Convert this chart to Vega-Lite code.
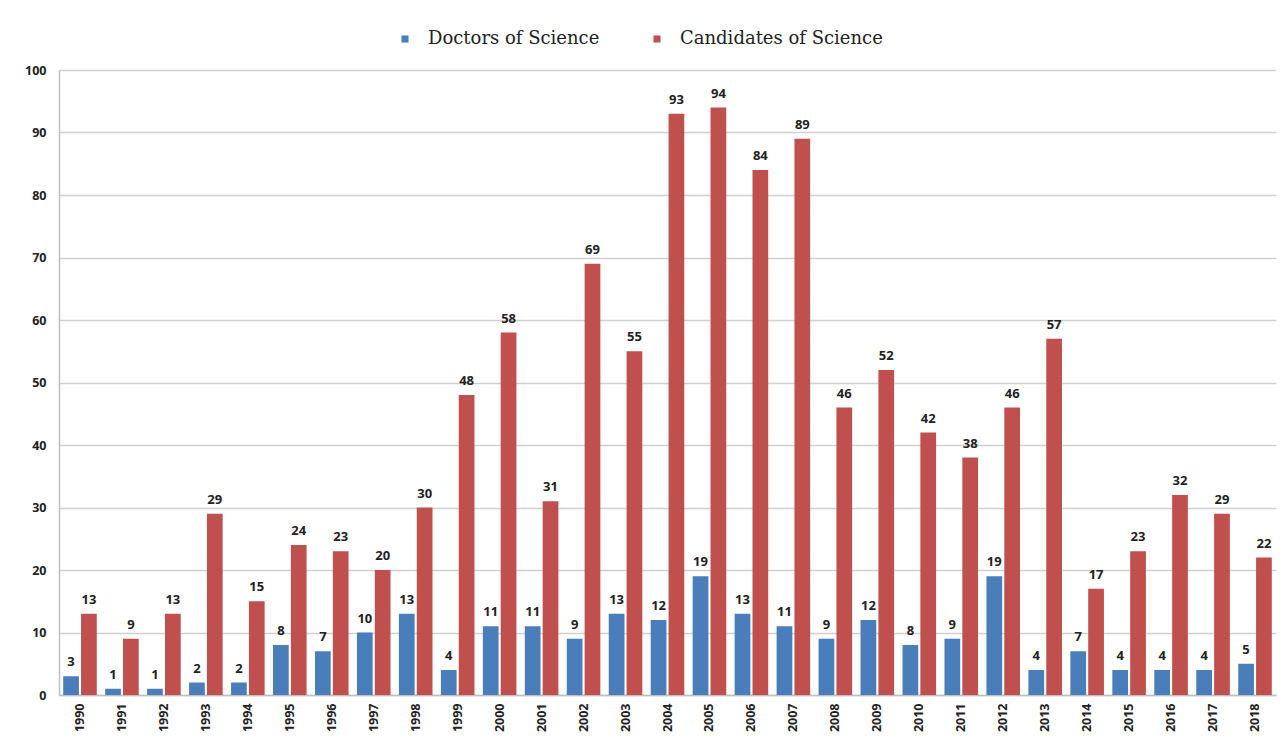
{
  "$schema": "https://vega.github.io/schema/vega-lite/v6.json",
  "width": 1217,
  "height": 625,
  "autosize": {"type": "none"},
  "padding": {"left": 59, "top": 70, "right": 7, "bottom": 52},
  "background": "white",
  "config": {"view": {"stroke": null}},
  "data": {"values": [
    {"year": "1990", "series": "Doctors of Science", "value": 3},
    {"year": "1991", "series": "Doctors of Science", "value": 1},
    {"year": "1992", "series": "Doctors of Science", "value": 1},
    {"year": "1993", "series": "Doctors of Science", "value": 2},
    {"year": "1994", "series": "Doctors of Science", "value": 2},
    {"year": "1995", "series": "Doctors of Science", "value": 8},
    {"year": "1996", "series": "Doctors of Science", "value": 7},
    {"year": "1997", "series": "Doctors of Science", "value": 10},
    {"year": "1998", "series": "Doctors of Science", "value": 13},
    {"year": "1999", "series": "Doctors of Science", "value": 4},
    {"year": "2000", "series": "Doctors of Science", "value": 11},
    {"year": "2001", "series": "Doctors of Science", "value": 11},
    {"year": "2002", "series": "Doctors of Science", "value": 9},
    {"year": "2003", "series": "Doctors of Science", "value": 13},
    {"year": "2004", "series": "Doctors of Science", "value": 12},
    {"year": "2005", "series": "Doctors of Science", "value": 19},
    {"year": "2006", "series": "Doctors of Science", "value": 13},
    {"year": "2007", "series": "Doctors of Science", "value": 11},
    {"year": "2008", "series": "Doctors of Science", "value": 9},
    {"year": "2009", "series": "Doctors of Science", "value": 12},
    {"year": "2010", "series": "Doctors of Science", "value": 8},
    {"year": "2011", "series": "Doctors of Science", "value": 9},
    {"year": "2012", "series": "Doctors of Science", "value": 19},
    {"year": "2013", "series": "Doctors of Science", "value": 4},
    {"year": "2014", "series": "Doctors of Science", "value": 7},
    {"year": "2015", "series": "Doctors of Science", "value": 4},
    {"year": "2016", "series": "Doctors of Science", "value": 4},
    {"year": "2017", "series": "Doctors of Science", "value": 4},
    {"year": "2018", "series": "Doctors of Science", "value": 5},
    {"year": "1990", "series": "Candidates of Science", "value": 13},
    {"year": "1991", "series": "Candidates of Science", "value": 9},
    {"year": "1992", "series": "Candidates of Science", "value": 13},
    {"year": "1993", "series": "Candidates of Science", "value": 29},
    {"year": "1994", "series": "Candidates of Science", "value": 15},
    {"year": "1995", "series": "Candidates of Science", "value": 24},
    {"year": "1996", "series": "Candidates of Science", "value": 23},
    {"year": "1997", "series": "Candidates of Science", "value": 20},
    {"year": "1998", "series": "Candidates of Science", "value": 30},
    {"year": "1999", "series": "Candidates of Science", "value": 48},
    {"year": "2000", "series": "Candidates of Science", "value": 58},
    {"year": "2001", "series": "Candidates of Science", "value": 31},
    {"year": "2002", "series": "Candidates of Science", "value": 69},
    {"year": "2003", "series": "Candidates of Science", "value": 55},
    {"year": "2004", "series": "Candidates of Science", "value": 93},
    {"year": "2005", "series": "Candidates of Science", "value": 94},
    {"year": "2006", "series": "Candidates of Science", "value": 84},
    {"year": "2007", "series": "Candidates of Science", "value": 89},
    {"year": "2008", "series": "Candidates of Science", "value": 46},
    {"year": "2009", "series": "Candidates of Science", "value": 52},
    {"year": "2010", "series": "Candidates of Science", "value": 42},
    {"year": "2011", "series": "Candidates of Science", "value": 38},
    {"year": "2012", "series": "Candidates of Science", "value": 46},
    {"year": "2013", "series": "Candidates of Science", "value": 57},
    {"year": "2014", "series": "Candidates of Science", "value": 17},
    {"year": "2015", "series": "Candidates of Science", "value": 23},
    {"year": "2016", "series": "Candidates of Science", "value": 32},
    {"year": "2017", "series": "Candidates of Science", "value": 29},
    {"year": "2018", "series": "Candidates of Science", "value": 22}
  ]},
  "encoding": {
    "x": {
      "field": "year", "type": "nominal", "title": null,
      "scale": {"paddingInner": 0.2, "paddingOuter": 0.1},
      "axis": {
        "labelAngle": -90, "labelAlign": "right", "labelBaseline": "middle",
        "labelFont": "Open Sans", "labelFontWeight": "bold", "labelFontSize": 12.5,
        "labelColor": "#222", "labelPadding": 8,
        "ticks": false, "domainColor": "#bfbfbf", "domainWidth": 1.5, "grid": false
      }
    },
    "xOffset": {"field": "series", "type": "nominal", "sort": ["Doctors of Science", "Candidates of Science"], "scale": {"paddingInner": 0.12}},
    "y": {
      "field": "value", "type": "quantitative", "title": null,
      "scale": {"domain": [0, 100], "nice": false},
      "axis": {
        "values": [0, 10, 20, 30, 40, 50, 60, 70, 80, 90, 100],
        "labelFont": "Open Sans", "labelFontWeight": "bold", "labelFontSize": 12.5,
        "labelColor": "#222", "labelPadding": 13,
        "ticks": false, "domainColor": "#bfbfbf", "domainWidth": 1.5,
        "gridColor": "#d0d0d0", "gridWidth": 1.5
      }
    }
  },
  "layer": [
    {
      "mark": {"type": "bar"},
      "encoding": {
        "color": {
          "field": "series", "type": "nominal",
          "sort": ["Doctors of Science", "Candidates of Science"],
          "scale": {"domain": ["Doctors of Science", "Candidates of Science"], "range": ["#4a7ebb", "#c0504d"]},
          "legend": {
            "title": null, "orient": "none", "direction": "horizontal",
            "legendX": 337, "legendY": -40,
            "symbolType": "square", "symbolSize": 50, "symbolStrokeWidth": 0,
            "labelFont": "DejaVu Serif", "labelFontSize": 18, "labelColor": "#222",
            "labelLimit": 0, "labelOffset": 14, "columnPadding": 48
          }
        }
      }
    },
    {
      "mark": {"type": "text", "baseline": "alphabetic", "dy": -10, "font": "Open Sans", "fontWeight": "bold", "fontSize": 13, "color": "#222"},
      "encoding": {
        "text": {"field": "value", "type": "quantitative"}
      }
    }
  ]
}
